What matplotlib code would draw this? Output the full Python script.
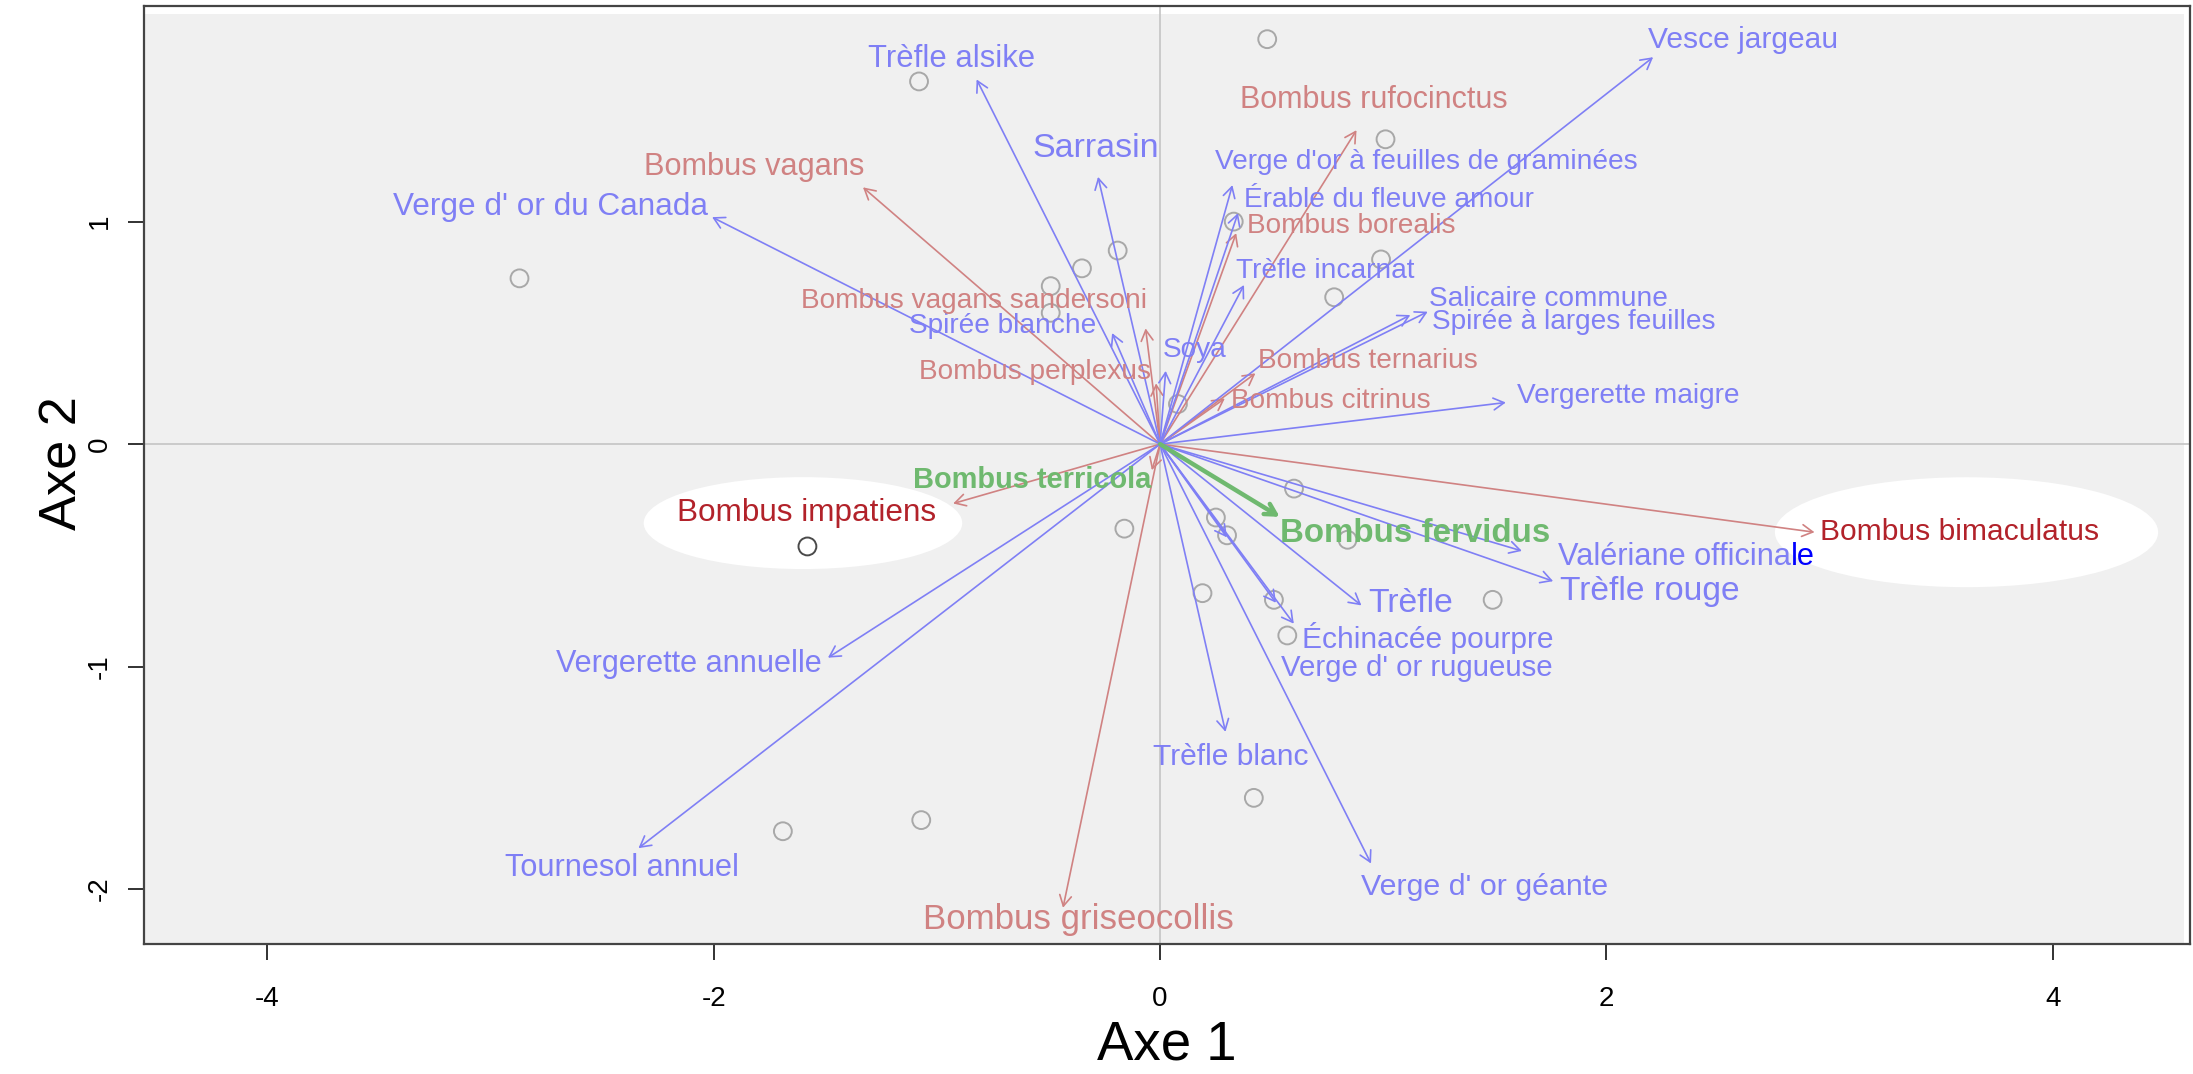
import numpy as np
import matplotlib
matplotlib.use("Agg")
import matplotlib.pyplot as plt
from matplotlib import font_manager
from matplotlib.patches import Ellipse, Rectangle

# site scores on the first two axes
site_x = [0.48, -1.08, 1.01, -2.87, -0.35, -0.49, -0.19, 0.33, 0.99, 0.78,
          0.08, 0.60, 0.25, 0.30, -0.16, -1.58, 0.19, 0.51, 0.57, 1.49,
          0.42, -1.69, -1.07, 0.84, -0.49]
site_y = [1.82, 1.63, 1.37, 0.745, 0.79, 0.71, 0.87, 1.00, 0.83, 0.66,
          0.18, -0.20, -0.33, -0.41, -0.38, -0.46, -0.67, -0.70, -0.86, -0.70,
          -1.59, -1.74, -1.69, -0.43, 0.59]
site_dark = 15  # the site under Bombus impatiens

# plant arrows (tips) and where their names go
plants = ["Vesce jargeau", "Trèfle alsike", "Sarrasin", "Verge d' or du Canada",
          "Spirée blanche", "Soya", "Verge d'or à feuilles de graminées",
          "Érable du fleuve amour", "Trèfle incarnat", "Salicaire commune",
          "Spirée à larges feuilles", "Vergerette maigre", "Valériane officinale",
          "Trèfle rouge", "Trèfle", "Échinacée pourpre", "Verge d' or rugueuse",
          "", "Trèfle blanc", "Verge d' or géante", "Vergerette annuelle",
          "Tournesol annuel"]
plant_x = [2.209, -0.822, -0.278, -2.007, -0.215, 0.025, 0.324, 0.349, 0.376, 1.199,
           1.121, 1.549, 1.621, 1.761, 0.902, 0.599, 0.519, 0.299, 0.293, 0.945,
           -1.488, -2.337]
plant_y = [1.739, 1.639, 1.201, 1.020, 0.499, 0.329, 1.164, 1.038, 0.715, 0.595,
           0.580, 0.187, -0.480, -0.616, -0.725, -0.807, -0.713, -0.419, -1.293, -1.885,
           -0.960, -1.816]
plant_lx = [2.612, -0.935, -0.288, -2.730, -0.704, 0.157, 1.191, 1.027, 0.738, 1.741,
            1.855, 2.097, 2.932, 2.192, 1.123, 1.199, 1.149, 0.0, 0.3145, 1.454,
            -2.109, -2.411]
plant_ly = [1.816, 1.732, 1.329, 1.067, 0.532, 0.422, 1.269, 1.097, 0.779, 0.653,
            0.547, 0.217, -0.508, -0.662, -0.718, -0.870, -1.007, 0.0, -1.407, -1.99,
            -0.990, -1.907]

# bumblebee arrows
bees = ["Bombus rufocinctus", "Bombus vagans", "Bombus borealis",
        "Bombus vagans sandersoni", "Bombus perplexus", "Bombus ternarius",
        "Bombus citrinus", "Bombus impatiens", "Bombus griseocollis",
        "Bombus bimaculatus", ""]
bee_x = [0.880, -1.331, 0.341, -0.065, -0.018, 0.427, 0.290, -0.927, -0.435, 2.932, -0.037]
bee_y = [1.411, 1.154, 0.948, 0.520, 0.273, 0.318, 0.205, -0.267, -2.084, -0.396, -0.117]
bee_lx = [0.957, -1.818, 0.858, -0.833, -0.562, 0.930, 0.765, -1.583, -0.367, 3.582, 0.0]
bee_ly = [1.546, 1.246, 0.981, 0.644, 0.322, 0.374, 0.195, -0.308, -2.138, -0.397, 0.0]
bee_focus = ["Bombus impatiens", "Bombus bimaculatus"]

# indicator species
green = ["Bombus fervidus", "Bombus terricola"]
green_x = [0.536, None]
green_y = [-0.327, None]
green_lx = [1.143, -0.575]
green_ly = [-0.401, -0.162]

# --- text styles: (size, narrow face?)
plant_style = [(26.3, 1), (27.2, 1), (29.9, 1), (27.7, 1), (20.2, 0), (20.2, 0),
               (20.2, 0), (20.2, 0), (20.2, 0), (20.2, 0), (20.2, 0), (20.2, 0),
               (27.0, 1), (29.5, 1), (29.6, 1), (21.6, 0), (25.8, 1), (0, 0),
               (26.3, 1), (26.7, 1), (26.9, 1), (26.9, 1)]
bee_style = [(26.8, 1), (27.0, 1), (20.2, 0), (20.2, 0), (20.2, 0), (20.2, 0),
             (20.2, 0), (27.7, 1), (30.6, 1), (26.3, 1), (0, 0)]
green_style = [(29.1, 1), (25.5, 1)]

BLUE = "#7f7ff5"
PINK = "#d08282"
DARKRED = "#b2222a"
GREEN = "#6fb96f"

names = {f.name for f in font_manager.fontManager.ttflist}
REG = "Liberation Sans" if "Liberation Sans" in names else "DejaVu Sans"
if "Liberation Sans Narrow" in names:
    NARROW, nfac = "Liberation Sans Narrow", 1.0
else:
    NARROW, nfac = REG, 0.82


def font(style):
    size, narrow = style
    if narrow:
        return dict(family=NARROW, fontsize=size * nfac)
    return dict(family=REG, fontsize=size)


fig = plt.figure(figsize=(21.93, 10.74), dpi=100)
ax = fig.add_axes([0.0657, 0.1210, 0.9330, 0.8734])
ax.set_xlim(-4.552, 4.615)
ax.set_ylim(-2.247, 1.969)

ax.add_patch(Rectangle((0, 0), 0.997, 0.992, transform=ax.transAxes,
                       fc="#f0f0f0", ec="none", zorder=0))
ax.axhline(0, color="#c4c4c4", lw=1.2, zorder=1)
ax.axvline(0, color="#c4c4c4", lw=1.2, zorder=1)

# white halos behind the two highlighted species
for cx, cy, w, h in [(-1.60, -0.355, 1.427, 0.413), (3.613, -0.396, 1.717, 0.494)]:
    ax.add_patch(Ellipse((cx, cy), w, h, fc="white", ec="none", zorder=1.5))

edge = ["#a8a8a8"] * len(site_x)
edge[site_dark] = "#4a4a4a"
ax.scatter(site_x, site_y, s=165, facecolors="none", edgecolors=edge,
           linewidths=1.4, zorder=2)


def arrow(x, y, color, lw=1.2):
    ax.annotate("", xy=(x, y), xytext=(0, 0),
                arrowprops=dict(arrowstyle="->,head_length=0.45,head_width=0.25",
                                color=color, lw=lw, shrinkA=0, shrinkB=0,
                                mutation_scale=17),
                zorder=3)


for i in range(len(bees)):
    arrow(bee_x[i], bee_y[i], PINK)
for i in range(len(plants)):
    arrow(plant_x[i], plant_y[i], BLUE)
for i in range(len(green)):
    if green_x[i] is not None:
        arrow(green_x[i], green_y[i], GREEN, lw=3.2)

for i, s in enumerate(plants):
    if not s:
        continue
    if s == "Valériane officinale":
        # last two letters are drawn in full blue, right after the rest
        head = ax.text(plant_lx[i], plant_ly[i], s[:-2], color=BLUE, ha="right",
                       va="center", zorder=4, **font(plant_style[i]))
        fig.canvas.draw()
        tail_w = ax.text(0, 0, s[-2:], **font(plant_style[i]))
        w = tail_w.get_window_extent().width
        tail_w.remove()
        x0 = ax.transData.transform((plant_lx[i], plant_ly[i]))[0] - w
        xd = ax.transData.inverted().transform((x0, 0))[0]
        head.set_x(xd)
        ax.annotate(s[-2:], xy=(1, 0.5), xycoords=head, ha="left", va="center",
                    color="#0000ff", zorder=4, **font(plant_style[i]))
        continue
    ax.text(plant_lx[i], plant_ly[i], s, color=BLUE, ha="center", va="center",
            zorder=4, **font(plant_style[i]))

for i, s in enumerate(bees):
    if not s:
        continue
    c = DARKRED if s in bee_focus else PINK
    ax.text(bee_lx[i], bee_ly[i], s, color=c, ha="center", va="center",
            zorder=4, **font(bee_style[i]))

for i, s in enumerate(green):
    ax.text(green_lx[i], green_ly[i], s, color=GREEN, ha="center", va="center",
            fontweight="bold", zorder=4, **font(green_style[i]))

ax.set_xticks([-4, -2, 0, 2, 4])
ax.set_yticks([-2, -1, 0, 1])
ax.set_xticklabels(["-4", "-2", "0", "2", "4"], family=REG, fontsize=20)
ax.set_yticklabels(["-2", "-1", "0", "1"], family=REG, fontsize=20,
                   rotation=90, va="center")
ax.tick_params(direction="out", length=11.5, width=1.3, color="#222222")
ax.tick_params(axis="x", pad=19)
ax.tick_params(axis="y", pad=11)
for sp in ax.spines.values():
    sp.set_color("#444444")
    sp.set_linewidth(1.6)

fig.text(0.532, 0.002, "Axe 1", ha="center", va="bottom",
         family=NARROW, fontsize=48 * nfac)
fig.text(0.0351, 0.569, "Axe 2", ha="center", va="baseline", rotation=90,
         rotation_mode="anchor", family=NARROW, fontsize=46 * nfac)

fig.savefig("out.png", dpi=100)
